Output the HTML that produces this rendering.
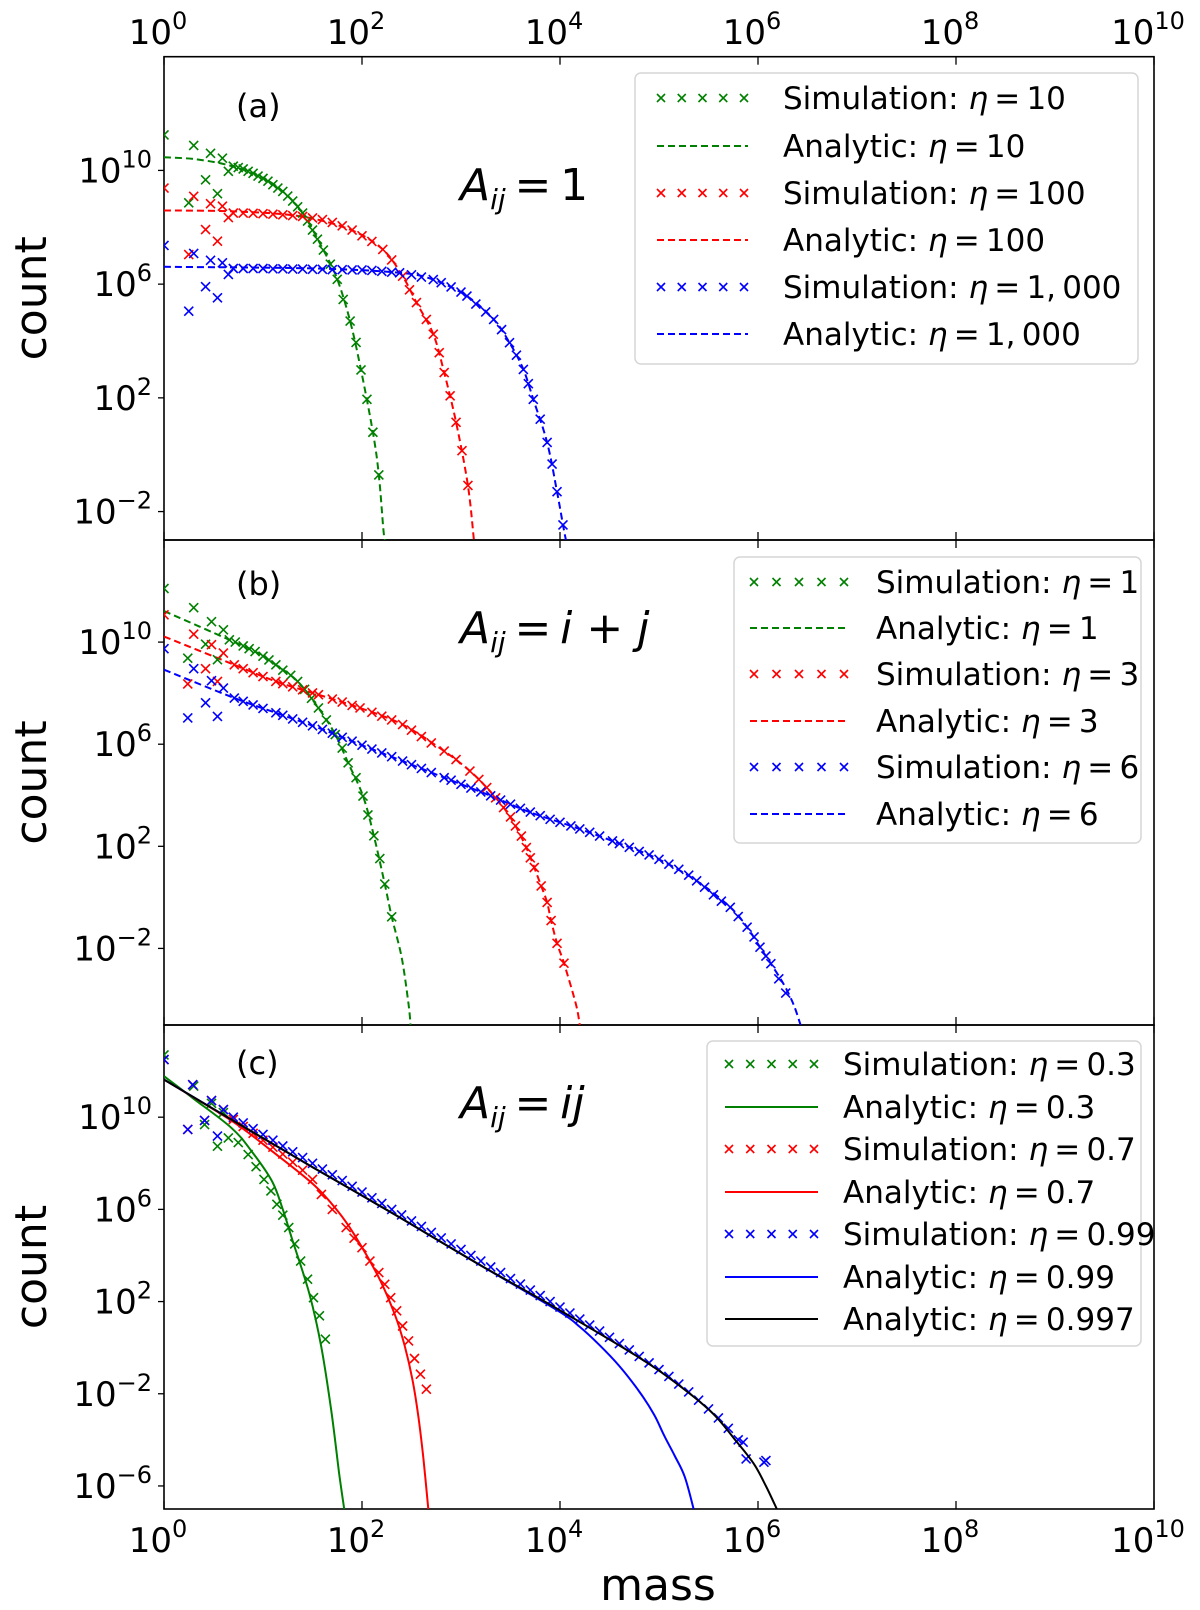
<!DOCTYPE html>
<html><head><meta charset="utf-8"><style>
html,body{margin:0;padding:0;background:#fff;}
svg{display:block;font-family:"DejaVu Sans","Liberation Sans",sans-serif;}
</style></head><body>
<svg id="chart" width="1200" height="1610" viewBox="0 0 1200 1610" xmlns="http://www.w3.org/2000/svg"></svg>
<script>
// ---------- data (log10 mass, log10 count) ----------
const xTicks = [0, 2, 4, 6, 8, 10];
const yTicksA = [-2, 2, 6, 10];
const yTicksB = [-2, 2, 6, 10];
const yTicksC = [-6, -2, 2, 6, 10];

const gSimA = [[0,11.25],[0.30,10.88],[0.47,10.6],[0.59,10.43],[0.65,9.97],[0.42,9.67],[0.54,9.18],[0.25,8.86],[0.70,10.15],[0.75,10.1],[0.8,10.05],[0.85,9.97],[0.9,9.9],[0.95,9.8],[1.0,9.72],[1.05,9.62],[1.1,9.5],[1.15,9.38],[1.2,9.26],[1.25,9.1],[1.3,8.92],[1.35,8.72],[1.40,8.5],[1.45,8.22],[1.5,7.9],[1.55,7.58],[1.61,7.2],[1.68,6.7],[1.75,6.17],[1.81,5.46],[1.88,4.7],[1.94,3.95],[1.99,2.98],[2.05,1.95],[2.11,0.79],[2.17,-0.71]];
const gLineA = [[0,10.46],[0.3,10.4],[0.63,10.2],[0.97,9.79],[1.2,9.26],[1.4,8.5],[1.61,7.2],[1.75,6.17],[1.88,4.7],[1.99,2.98],[2.11,0.79],[2.17,-0.71],[2.215,-2.6],[2.23,-3]];
const rSimA = [[0,9.38],[0.30,9.09],[0.47,8.83],[0.59,8.74],[0.65,8.34],[0.42,7.92],[0.54,7.51],[0.25,7.04],[0.7,8.5],[0.8,8.5],[0.9,8.49],[1.0,8.48],[1.1,8.46],[1.2,8.44],[1.3,8.41],[1.4,8.38],[1.5,8.33],[1.6,8.27],[1.7,8.17],[1.8,8.05],[1.9,7.9],[2.0,7.7],[2.1,7.5],[2.21,7.22],[2.3,6.85],[2.41,6.28],[2.48,5.8],[2.55,5.35],[2.65,4.76],[2.72,4.24],[2.78,3.59],[2.83,2.89],[2.89,2.07],[2.95,1.14],[3.01,0.14],[3.07,-1.08]];
const rLineA = [[0,8.59],[0.7,8.56],[1.37,8.39],[1.88,7.92],[2.21,7.22],[2.41,6.28],[2.55,5.35],[2.72,4.24],[2.83,2.89],[2.95,1.14],[3.07,-1.08],[3.13,-3]];
const bSimA = [[0,7.36],[0.30,7.08],[0.47,6.84],[0.59,6.75],[0.65,6.34],[0.42,5.91],[0.54,5.52],[0.25,5.05],[0.7,6.55],[0.8,6.55],[0.9,6.55],[1.0,6.55],[1.1,6.54],[1.2,6.54],[1.3,6.53],[1.4,6.53],[1.5,6.52],[1.6,6.52],[1.7,6.51],[1.8,6.51],[1.9,6.5],[2.0,6.5],[2.1,6.48],[2.2,6.45],[2.3,6.42],[2.38,6.4],[2.5,6.33],[2.6,6.25],[2.72,6.16],[2.8,6.05],[2.9,5.9],[3.0,5.72],[3.06,5.58],[3.15,5.3],[3.25,5.02],[3.33,4.76],[3.41,4.4],[3.49,3.94],[3.56,3.5],[3.63,3.0],[3.68,2.5],[3.73,1.95],[3.8,1.25],[3.87,0.43],[3.92,-0.33],[3.97,-1.3],[4.03,-2.47]];
const bLineA = [[0,6.61],[1.54,6.55],[2.38,6.4],[2.72,6.16],[3.06,5.58],[3.33,4.76],[3.49,3.94],[3.63,3.0],[3.73,1.95],[3.87,0.43],[3.97,-1.3],[4.03,-2.47],[4.06,-3]];

const gSimB = [[0,12.1],[0.30,11.35],[0.48,10.8],[0.60,10.48],[0.42,9.92],[0.24,9.37],[0.54,9.31],[0.66,10.09],[0.72,10.0],[0.8,9.85],[0.86,9.74],[0.92,9.63],[1.0,9.45],[1.06,9.3],[1.13,9.11],[1.2,8.9],[1.28,8.7],[1.35,8.46],[1.42,8.15],[1.49,7.8],[1.56,7.42],[1.64,6.95],[1.73,6.38],[1.8,5.85],[1.86,5.27],[1.94,4.69],[2.01,3.97],[2.06,3.23],[2.12,2.41],[2.18,1.52],[2.23,0.52],[2.30,-0.76]];
const gLineB = [[0,11.22],[0.66,10.09],[0.92,9.63],[1.13,9.11],[1.35,8.46],[1.56,7.42],[1.73,6.38],[1.86,5.27],[2.01,3.97],[2.12,2.41],[2.23,0.52],[2.30,-0.76],[2.40,-2.34],[2.47,-4.17],[2.49,-5]];
const rSimB = [[0,11.07],[0.30,10.31],[0.48,9.90],[0.60,9.57],[0.42,8.96],[0.24,8.36],[0.54,8.46],[0.71,9.11],[0.8,8.96],[0.9,8.8],[1.0,8.65],[1.13,8.46],[1.2,8.37],[1.3,8.25],[1.4,8.13],[1.5,8.01],[1.56,7.94],[1.7,7.77],[1.8,7.65],[1.9,7.52],[1.98,7.42],[2.1,7.25],[2.2,7.1],[2.3,6.95],[2.41,6.77],[2.5,6.55],[2.6,6.3],[2.7,6.05],[2.83,5.73],[2.95,5.4],[3.09,4.95],[3.18,4.62],[3.26,4.3],[3.35,3.9],[3.43,3.52],[3.5,3.15],[3.55,2.8],[3.61,2.4],[3.66,1.95],[3.7,1.55],[3.74,1.17],[3.81,0.45],[3.87,-0.2],[3.91,-0.91],[3.97,-1.8],[4.04,-2.58]];
const rLineB = [[0,10.22],[0.71,9.11],[1.13,8.46],[1.56,7.94],[1.98,7.42],[2.41,6.77],[2.83,5.73],[3.09,4.95],[3.26,4.30],[3.43,3.52],[3.55,2.8],[3.66,1.95],[3.74,1.17],[3.81,0.45],[3.87,-0.2],[3.91,-0.91],[3.97,-1.8],[4.04,-2.58],[4.16,-4.17],[4.2,-5]];
const bSimB = [[0,9.74],[0.30,8.96],[0.48,8.49],[0.60,8.2],[0.42,7.62],[0.24,7.03],[0.54,7.09],[0.71,7.81],[0.8,7.68],[0.9,7.54],[1.0,7.4],[1.13,7.23],[1.2,7.13],[1.3,6.99],[1.4,6.86],[1.5,6.72],[1.6,6.58],[1.7,6.43],[1.8,6.27],[1.9,6.12],[2.0,5.96],[2.1,5.81],[2.2,5.66],[2.3,5.51],[2.41,5.34],[2.5,5.2],[2.6,5.05],[2.7,4.89],[2.83,4.69],[2.9,4.59],[3.0,4.43],[3.1,4.28],[3.2,4.13],[3.3,3.98],[3.4,3.81],[3.5,3.65],[3.6,3.49],[3.7,3.34],[3.8,3.2],[3.9,3.06],[4.0,2.94],[4.11,2.8],[4.2,2.68],[4.3,2.55],[4.4,2.4],[4.53,2.21],[4.6,2.11],[4.7,1.96],[4.8,1.8],[4.9,1.66],[5.0,1.49],[5.1,1.3],[5.2,1.1],[5.3,0.87],[5.38,0.65],[5.46,0.4],[5.55,0.1],[5.63,-0.15],[5.72,-0.39],[5.8,-0.75],[5.89,-1.17],[5.96,-1.55],[6.02,-1.95],[6.08,-2.3],[6.13,-2.6],[6.21,-3.19],[6.28,-3.75]];
const bLineB = [[0,8.92],[0.71,7.81],[1.13,7.23],[1.56,6.64],[1.98,5.99],[2.41,5.34],[2.83,4.69],[3.26,4.04],[3.68,3.36],[4.11,2.8],[4.53,2.21],[4.96,1.56],[5.38,0.65],[5.72,-0.39],[5.89,-1.17],[6.02,-1.95],[6.13,-2.6],[6.26,-3.4],[6.36,-4.2],[6.43,-5]];

const gSimC = [[0,12.7],[0.3,11.35],[0.48,10.6],[0.6,10.2],[0.41,9.68],[0.54,8.74],[0.65,9.1],[0.75,8.9],[0.85,8.38],[0.93,7.85],[1.01,7.3],[1.08,6.8],[1.14,6.22],[1.2,5.75],[1.26,5.21],[1.32,4.5],[1.38,3.76],[1.45,2.97],[1.51,2.17],[1.57,1.38],[1.63,0.37]];
const gLineC = [[0,11.78],[0.3,10.8],[0.68,9.54],[0.88,8.55],[1.09,7.23],[1.2,6.0],[1.30,4.63],[1.47,2.32],[1.59,0.01],[1.69,-2.74],[1.77,-5.48],[1.82,-7]];
const rSimC = [[0,12.5],[0.29,11.41],[0.48,10.72],[0.60,10.33],[0.41,9.86],[0.24,9.47],[0.7,9.9],[0.8,9.6],[0.9,9.3],[1.0,9.0],[1.1,8.7],[1.2,8.4],[1.3,8.05],[1.4,7.7],[1.5,7.3],[1.59,6.65],[1.7,6.0],[1.84,5.21],[1.92,4.75],[2.0,4.34],[2.08,3.76],[2.17,3.26],[2.23,2.75],[2.29,2.17],[2.35,1.6],[2.41,0.94],[2.47,0.29],[2.53,-0.47],[2.59,-1.15],[2.65,-1.8]];
const rLineC = [[0,11.63],[0.68,9.85],[1.09,8.53],[1.51,7.08],[1.75,5.95],[1.92,4.92],[2.17,3.04],[2.33,1.45],[2.43,0.1],[2.51,-1.4],[2.57,-3.0],[2.62,-4.8],[2.67,-7]];
const bSimC = [[0,12.5],[0.29,11.41],[0.48,10.72],[0.60,10.33],[0.41,9.86],[0.24,9.47],[0.54,9.18],[0.7,10.0],[0.8,9.75],[0.9,9.5],[1.0,9.25],[1.1,9.0],[1.2,8.75],[1.3,8.5],[1.4,8.25],[1.5,8.0],[1.6,7.75],[1.7,7.5],[1.8,7.25],[1.9,7.0],[2.0,6.75],[2.1,6.5],[2.2,6.26],[2.3,6.0],[2.4,5.76],[2.5,5.5],[2.6,5.26],[2.7,5.0],[2.8,4.76],[2.9,4.5],[3.0,4.26],[3.1,4.0],[3.2,3.76],[3.3,3.5],[3.4,3.26],[3.5,3.0],[3.6,2.76],[3.7,2.5],[3.8,2.26],[3.9,2.0],[4.0,1.76],[4.1,1.5],[4.2,1.24],[4.3,0.98],[4.4,0.72],[4.5,0.45],[4.6,0.18],[4.7,-0.1],[4.8,-0.38],[4.9,-0.66],[5.0,-0.95],[5.1,-1.25],[5.2,-1.58],[5.3,-1.92],[5.4,-2.28],[5.5,-2.66],[5.6,-3.05],[5.7,-3.5],[5.8,-4.0],[5.85,-4.1],[5.88,-4.83],[6.06,-4.97],[6.08,-4.9]];
const bLineC = [[0,11.63],[0.68,9.9],[1.51,7.81],[2.33,5.78],[3.15,3.69],[3.98,1.6],[4.2,0.9],[4.39,0.15],[4.6,-0.8],[4.8,-1.9],[4.95,-2.9],[5.05,-3.8],[5.16,-4.7],[5.26,-5.6],[5.35,-7]];
const kLineC = [[0,11.63],[0.68,9.9],[1.51,7.81],[2.33,5.78],[3.15,3.69],[3.98,1.67],[4.8,-0.43],[5.21,-1.66],[5.55,-2.88],[5.79,-4.11],[5.96,-5.05],[6.08,-6.0],[6.19,-7]];

const legendA = ["Simulation: ", "10", "Analytic: ", "10", "Simulation: ", "100", "Analytic: ", "100", "Simulation: ", "1,\u2009000", "Analytic: ", "1,\u2009000"];
const legendB = ["Simulation: ", "1", "Analytic: ", "1", "Simulation: ", "3", "Analytic: ", "3", "Simulation: ", "6", "Analytic: ", "6"];
const legendC = ["Simulation: ", "0.3", "Analytic: ", "0.3", "Simulation: ", "0.7", "Analytic: ", "0.7", "Simulation: ", "0.99", "Analytic: ", "0.99", "Analytic: ", "0.997"];

// ---------- layout ----------
const svg = document.getElementById('chart');
const NS = 'http://www.w3.org/2000/svg';
const X0 = 164, X1 = 1154;
function xs(l){ return X0 + (l - 0) / 10 * (X1 - X0); }
function mk(tag, attrs, parent){
  const e = document.createElementNS(NS, tag);
  for (const k in attrs) e.setAttribute(k, attrs[k]);
  (parent || svg).appendChild(e);
  return e;
}
const panels = [
  {id:'a', top:56.7, bot:540, ymin:-3, ymax:14, ticks:yTicksA, label:'(a)', labY:117, annY:200, ann:'1'},
  {id:'b', top:540, bot:1025, ymin:-5, ymax:14, ticks:yTicksB, label:'(b)', labY:595, annY:643, ann:'i + j'},
  {id:'c', top:1025, bot:1509, ymin:-7, ymax:14, ticks:yTicksC, label:'(c)', labY:1074, annY:1118, ann:'ij'}
];
function ysFn(p){ return l => p.bot - (l - p.ymin) / (p.ymax - p.ymin) * (p.bot - p.top); }

function smoothPath(P){
  let d = 'M' + P[0][0].toFixed(1) + ',' + P[0][1].toFixed(1);
  for (let i = 0; i < P.length - 1; i++) {
    const p0 = P[i-1] || P[i], p1 = P[i], p2 = P[i+1], p3 = P[i+2] || P[i+1];
    const c1 = [p1[0] + (p2[0]-p0[0])/6, p1[1] + (p2[1]-p0[1])/6];
    const c2 = [p2[0] - (p3[0]-p1[0])/6, p2[1] - (p3[1]-p1[1])/6];
    d += `C${c1[0].toFixed(1)},${c1[1].toFixed(1)} ${c2[0].toFixed(1)},${c2[1].toFixed(1)} ${p2[0].toFixed(1)},${p2[1].toFixed(1)}`;
  }
  return d;
}
function drawLine(pts, p, color, dashed, name){
  const ys = ysFn(p);
  const P = pts.map(q => [xs(q[0]), ys(q[1])]);
  const e = mk('path', {d:smoothPath(P), fill:'none', stroke:color, 'stroke-width':2, 'clip-path':'url(#clip-'+p.id+')'});
  if (dashed) e.setAttribute('stroke-dasharray', '7,4');
  
  
}
function cross(g, x, y, color, s){
  return mk('path', {d:`M${x-s},${y-s}L${x+s},${y+s}M${x-s},${y+s}L${x+s},${y-s}`, stroke:color, 'stroke-width':1.6, fill:'none'}, g);
}
function drawSim(pts, p, color, name){
  const ys = ysFn(p);
  const g = mk('g', {'clip-path':'url(#clip-'+p.id+')'});
  
  
  pts.forEach(q => {
    const c = cross(g, xs(q[0]), ys(q[1]), color, 4.5);
    
    
  });
}

const defs = mk('defs', {});
panels.forEach(p => {
  const cp = mk('clipPath', {id:'clip-'+p.id}, defs);
  mk('rect', {x:X0, y:p.top, width:X1-X0, height:p.bot-p.top}, cp);
});

panels.forEach(p => {
  const ys = ysFn(p);
  const fr = mk('rect', {x:X0, y:p.top, width:X1-X0, height:p.bot-p.top, fill:'none', stroke:'#000', 'stroke-width':1.6});
  
  
  xTicks.forEach(t => {
    const x = xs(t);
    mk('line', {x1:x, x2:x, y1:p.top, y2:p.top+8, stroke:'#000', 'stroke-width':1.3});
    mk('line', {x1:x, x2:x, y1:p.bot, y2:p.bot-8, stroke:'#000', 'stroke-width':1.3});
  });
  p.ticks.forEach(t => {
    const y = ys(t);
    mk('line', {x1:X0-6, x2:X0, y1:y, y2:y, stroke:'#000', 'stroke-width':1.3});
    const tx = mk('text', {x:152, y:y+12, 'text-anchor':'end', 'font-size':34, fill:'#000'});
    
    
    const a = mk('tspan', {}, tx); a.textContent = '10';
    const b = mk('tspan', {'font-size':24, dy:-15}, tx); b.textContent = (t < 0 ? '\u2212' + (-t) : String(t));
  });
  const yl = mk('text', {x:0, y:0, transform:`translate(46,${(p.top+p.bot)/2}) rotate(-90)`, 'text-anchor':'middle', 'font-size':44, fill:'#000'});
  yl.textContent = 'count';
  
  
  const pl = mk('text', {x:236, y:p.labY, 'font-size':32, fill:'#000'});
  pl.textContent = p.label;
  
  
  const an = mk('text', {x:460, y:p.annY, 'font-size':44, fill:'#000'});
  
  
  const s1 = mk('tspan', {'font-style':'italic'}, an); s1.textContent = 'A';
  const s2 = mk('tspan', {'font-style':'italic', 'font-size':28, dy:9}, an); s2.textContent = 'ij';
  const s3 = mk('tspan', {dy:-9}, an); s3.textContent = '\u2009=\u2009';
  const s4 = mk('tspan', {'font-style': p.ann==='1' ? 'normal' : 'italic'}, an); s4.textContent = p.ann;
});

xTicks.forEach(t => {
  [[44,'top'],[1552,'bottom']].forEach(([y,pos]) => {
    const tx = mk('text', {x:xs(t)-6, y:y, 'text-anchor':'middle', 'font-size':34, fill:'#000'});
    
    
    const a = mk('tspan', {}, tx); a.textContent = '10';
    const b = mk('tspan', {'font-size':24, dy:-15}, tx); b.textContent = String(t);
  });
});
const xl = mk('text', {x:658, y:1600, 'text-anchor':'middle', 'font-size':44, fill:'#000'});
xl.textContent = 'mass';



const G='#008000', R='#ff0000', B='#0000ff', K='#000000';
const pA=panels[0], pB=panels[1], pC=panels[2];
drawLine(gLineA,pA,G,true,'analytic-a-eta10'); drawLine(rLineA,pA,R,true,'analytic-a-eta100'); drawLine(bLineA,pA,B,true,'analytic-a-eta1000');
drawSim(gSimA,pA,G,'sim-a-eta10'); drawSim(rSimA,pA,R,'sim-a-eta100'); drawSim(bSimA,pA,B,'sim-a-eta1000');
drawLine(gLineB,pB,G,true,'analytic-b-eta1'); drawLine(rLineB,pB,R,true,'analytic-b-eta3'); drawLine(bLineB,pB,B,true,'analytic-b-eta6');
drawSim(gSimB,pB,G,'sim-b-eta1'); drawSim(rSimB,pB,R,'sim-b-eta3'); drawSim(bSimB,pB,B,'sim-b-eta6');
drawSim(gSimC,pC,G,'sim-c-eta0.3'); drawSim(rSimC,pC,R,'sim-c-eta0.7'); drawSim(bSimC,pC,B,'sim-c-eta0.99');
drawLine(gLineC,pC,G,false,'analytic-c-eta0.3'); drawLine(rLineC,pC,R,false,'analytic-c-eta0.7'); drawLine(bLineC,pC,B,false,'analytic-c-eta0.99'); drawLine(kLineC,pC,K,false,'analytic-c-eta0.997');

function legend(name, box, rows, hx0, hx1, tx, labels, kinds){
  const g = mk('g', {});
  
  
  mk('rect', {x:box[0], y:box[1], width:box[2]-box[0], height:box[3]-box[1], rx:6, fill:'#fff', 'fill-opacity':0.85, stroke:'#d6d6d6', 'stroke-width':1.5}, g);
  kinds.forEach((k, i) => {
    const y = rows[i];
    const ent = mk('g', {}, g);
    
    
    if (k[0] === 'sim') {
      for (let j = 0; j < 5; j++) cross(ent, hx0 + 4 + j*(hx1-hx0-8)/4, y, k[1], 4);
    } else {
      const l = mk('line', {x1:hx0, x2:hx1, y1:y, y2:y, stroke:k[1], 'stroke-width':2}, ent);
      if (k[0] === 'dash') l.setAttribute('stroke-dasharray', '7,4');
    }
    const t = mk('text', {x:tx, y:y+11, 'font-size':31, fill:'#000'}, ent);
    const a = mk('tspan', {}, t); a.textContent = labels[2*i];
    const b = mk('tspan', {'font-style':'italic'}, t); b.textContent = '\u03B7';
    const c = mk('tspan', {}, t); c.textContent = '\u2009=\u2009' + labels[2*i+1];
  });
}
legend('legend-a', [635,73,1138,364], [98,146,193,240,287,334], 657, 748, 783, legendA,
  [['sim',G],['dash',G],['sim',R],['dash',R],['sim',B],['dash',B]]);
legend('legend-b', [734,557,1141,843], [582,628,674,721,767,814], 750, 848, 876, legendB,
  [['sim',G],['dash',G],['sim',R],['dash',R],['sim',B],['dash',B]]);
legend('legend-c', [707,1041,1141,1346], [1064,1107,1149,1192,1234,1277,1319], 725, 818, 843, legendC,
  [['sim',G],['solid',G],['sim',R],['solid',R],['sim',B],['solid',B],['solid',K]]);
</script>
</body></html>
